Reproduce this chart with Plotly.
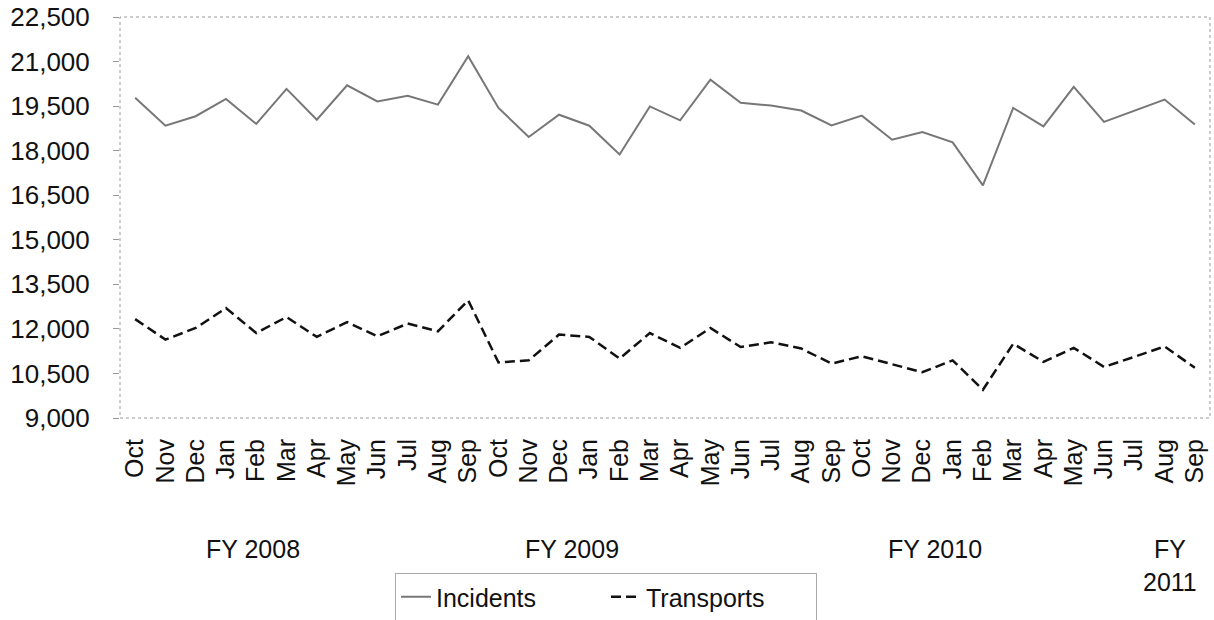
import plotly.graph_objects as go

months = ["Oct", "Nov", "Dec", "Jan", "Feb", "Mar", "Apr", "May", "Jun", "Jul", "Aug", "Sep"] * 3
x_idx = list(range(len(months)))

incidents = [19780, 18840, 19160, 19740, 18900, 20080, 19040, 20200, 19660, 19850,
             19550, 21180, 19440, 18460, 19210, 18840, 17870, 19490, 19020, 20390,
             19610, 19520, 19350, 18850, 19180, 18370, 18630, 18280, 16830, 19440,
             18820, 20150, 18970, 19350, 19720, 18880]
transports = [12330, 11640, 12030, 12700, 11860, 12400, 11730, 12230, 11750, 12180,
              11920, 12960, 10870, 10940, 11810, 11730, 11000, 11860, 11360, 12030,
              11390, 11550, 11340, 10830, 11080, 10800, 10540, 10940, 9950, 11500,
              10890, 11360, 10720, 11060, 11410, 10690]

y_ticks = [9000, 10500, 12000, 13500, 15000, 16500, 18000, 19500, 21000, 22500]
fy_labels = ["FY 2008", "FY 2009", "FY 2010", "FY<br>2011"]
fy_pos = [253, 572, 935, 1170]

FONT = "Liberation Sans, Arial, sans-serif"
W, H = 1214, 620
L, R, T = 120, 4, 17
PH = 401
B = H - T - PH
PW = W - L - R

fig = go.Figure()
fig.add_trace(go.Scatter(x=x_idx, y=incidents, mode="lines", name="Incidents",
                         line=dict(color="#777777", width=2)))
fig.add_trace(go.Scatter(x=x_idx, y=transports, mode="lines", name="Transports",
                         line=dict(color="#111111", width=2.5, dash="10px,5px")))

fig.update_layout(
    width=W, height=H,
    margin=dict(l=L, r=R, t=T, b=B, autoexpand=False),
    paper_bgcolor="white", plot_bgcolor="white",
    font=dict(family=FONT, size=25, color="#111111"),
    showlegend=True,
    legend=dict(orientation="h", xref="container", yref="container",
                x=606 / W, xanchor="center", y=1 - 573 / H, yanchor="top",
                bordercolor="#aaaaaa", borderwidth=1, font=dict(size=25),
                bgcolor="white", entrywidth=165),
    xaxis=dict(tickmode="array", tickvals=x_idx, ticktext=months, tickangle=-90,
               range=[-0.5, len(months) - 0.5], showgrid=False, zeroline=False,
               showline=False, ticks="", automargin=False, ticklabelstandoff=15,
               tickfont=dict(size=25, family=FONT)),
    yaxis=dict(range=[9000, 22500], tickmode="array", tickvals=y_ticks,
               ticktext=[f"{v:,}" for v in y_ticks], showgrid=False, zeroline=False,
               showline=False, ticks="outside", ticklen=6, tickcolor="#999999",
               ticklabelstandoff=18, automargin=False, ticklabeloverflow="allow",
               tickfont=dict(size=26, family=FONT)),
)

fig.add_shape(type="rect", xref="paper", yref="paper", x0=0, x1=1, y0=0, y1=1,
              line=dict(color="#999999", width=1, dash="dot"), layer="below")

for lab, px in zip(fy_labels, fy_pos):
    fig.add_annotation(text=lab, xref="paper", yref="paper",
                       x=(px - L) / PW, y=1 - (533 - T) / PH,
                       xanchor="center", yanchor="top", showarrow=False,
                       font=dict(size=25, family=FONT))

fig.write_html("out.html", config={"displayModeBar": False},
               post_script="document.body.style.margin='0';")
